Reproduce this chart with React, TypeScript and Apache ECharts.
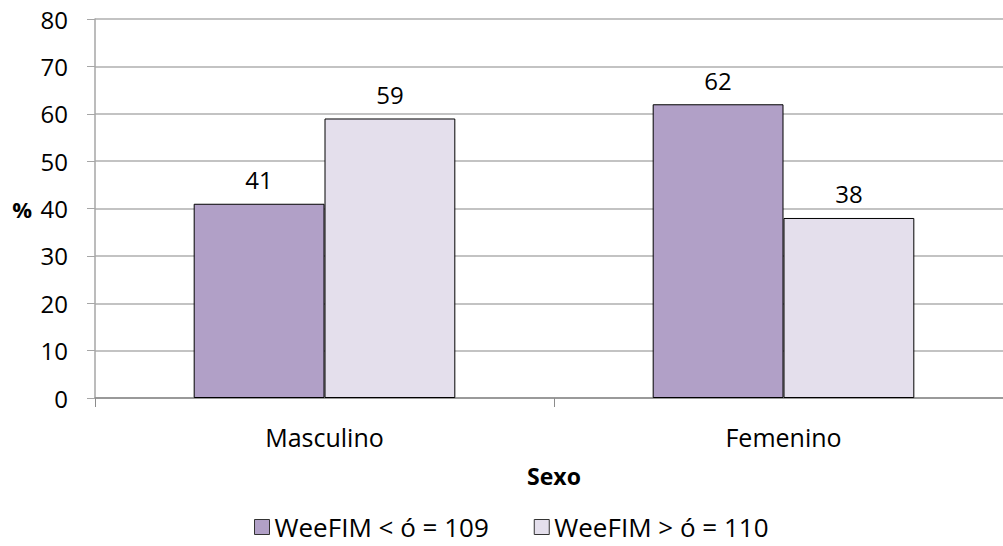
import React, { useEffect, useRef } from "react";
import * as echarts from "echarts";

const categories = ["Masculino", "Femenino"];
const seriesNames = ["WeeFIM < ó = 109", "WeeFIM > ó = 110"];
const lowValues = [41, 62];
const highValues = [59, 38];
const colors = ["#B1A0C7", "#E4DFEC"];
const FONT = "'Open Sans', 'Noto Sans', sans-serif";

export default function App() {
  const ref = useRef<HTMLDivElement>(null);
  useEffect(() => {
    if (!ref.current) return;
    const chart = echarts.init(ref.current, undefined, { renderer: "svg" });
    const mkSeries = (name: string, data: number[], color: string) => ({
      name,
      type: "bar",
      data,
      barGap: "0%",
      barCategoryGap: "43%",
      itemStyle: { color, borderColor: "#000", borderWidth: 1 },
      label: {
        show: true,
        position: "top",
        distance: 12,
        color: "#000",
        fontSize: 24,
        fontFamily: FONT,
      },
    });
    chart.setOption({
      animation: false,
      backgroundColor: "#fff",
      grid: { left: 95, right: 0, top: 19, bottom: 148 },
      legend: {
        bottom: 2,
        left: 252,
        padding: 2,
        itemWidth: 15,
        itemHeight: 15,
        itemGap: 45,
        icon: "rect",
        textStyle: { fontSize: 26, lineHeight: 30, fontFamily: FONT, color: "#000" },
        itemStyle: { borderColor: "#333", borderWidth: 1 },
        data: seriesNames,
      },
      xAxis: {
        type: "category",
        data: categories,
        name: "Sexo",
        nameLocation: "middle",
        nameGap: 66,
        nameTextStyle: { fontSize: 23, fontWeight: "bold", fontFamily: FONT, color: "#000" },
        axisLine: { lineStyle: { color: "#8C8C8C", width: 1.5 } },
        axisTick: { show: true, length: 9, lineStyle: { color: "#8C8C8C" } },
        axisLabel: { fontSize: 25, fontFamily: FONT, color: "#000", margin: 26 },
      },
      yAxis: {
        type: "value",
        min: 0,
        max: 80,
        interval: 10,
        name: "%",
        nameLocation: "middle",
        nameGap: 63,
        nameRotate: 0,
        nameTextStyle: { fontSize: 22, fontWeight: "bold", fontFamily: FONT, color: "#000" },
        axisLine: { show: true, lineStyle: { color: "#A6A6A6", width: 1.5 } },
        axisTick: { show: true, length: 8, lineStyle: { color: "#A6A6A6" } },
        axisLabel: { fontSize: 24, fontFamily: FONT, color: "#000", margin: 27 },
        splitLine: { lineStyle: { color: "#AFAFAF", width: 1.5 } },
      },
      series: [
        mkSeries(seriesNames[0], lowValues, colors[0]),
        mkSeries(seriesNames[1], highValues, colors[1]),
      ],
    });
    return () => chart.dispose();
  }, []);
  return (
    <div style={{ position: "fixed", left: 0, top: 0, width: 1003, height: 546, overflow: "hidden", background: "#fff" }}>
      <div ref={ref} style={{ position: "absolute", left: 0, top: 0, width: 1013, height: 546 }} />
    </div>
  );
}
